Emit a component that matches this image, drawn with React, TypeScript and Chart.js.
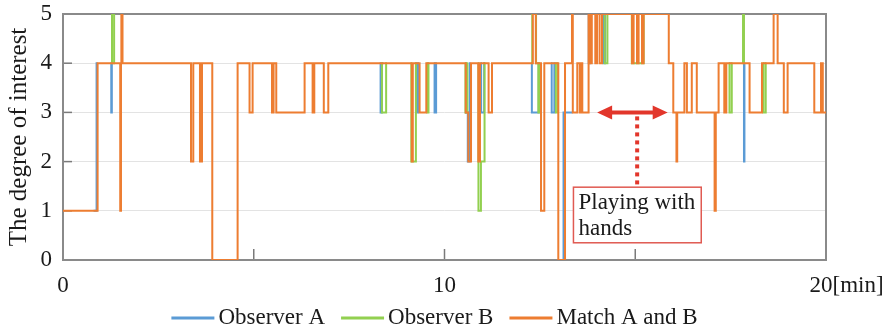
import { useEffect, useRef } from "react";
import { Chart, registerables } from "chart.js";

Chart.register(...registerables);

type Step = [number, number] | null;

// [minute, level]: the level holds from that minute until the next entry
const matchSteps: Step[] = [
  [0, 1], [0.907, 4], [1.5, 1], [1.52, 4], [1.53, 5], [1.56, 4],
  [3.355, 2], [3.415, 4], [3.59, 2], [3.643, 4], [3.913, 0], [4.577, 4],
  [4.89, 3], [4.97, 4], [5.478, 3], [5.52, 4], [5.59, 3], [6.333, 4],
  [6.543, 3], [6.587, 4], [6.836, 3], [6.954, 4],
  [9.143, 2], [9.169, 4], [9.347, 3], [9.523, 4],
  [10.558, 3], [10.624, 2], [10.695, 4], [10.886, 2], [10.93, 4],
  [11.156, 3], [11.245, 4],
  [12.315, 5], [12.393, 4], [12.53, 1], [12.616, 4], [12.983, 0], [13.159, 4],
  [13.342, 5], [13.363, 3], [13.481, 4], [13.547, 3], [13.573, 4], [13.612, 3],
  [13.777, 5], [13.822, 4], [13.861, 5], [13.953, 4], [13.997, 5], [14.065, 4],
  [14.128, 5], [14.915, 4], [14.957, 5], [15.046, 4], [15.088, 5], [15.177, 4],
  [15.219, 5], [15.879, 4], [15.997, 3], [16.08, 2], [16.1, 3], [16.288, 4],
  [16.354, 3], [16.482, 4], [16.613, 3], [17.08, 1], [17.111, 3], [17.185, 4],
  [17.334, 3], [17.387, 4], [17.997, 3], [18.322, 4], [18.627, 5], [18.732, 4],
  [18.894, 3], [18.994, 4], [19.693, 3], [19.869, 4], [19.916, 3], [20, 3],
];

// Only the stretches where Observer A differs from the match (null = gap)
const observerASteps: Step[] = [
  [0.8, 1], [0.88, 4], [0.91, 4], null,
  [1.24, 4], [1.265, 3], [1.28, 4], [1.3, 4], null,
  [8.3, 4], [8.325, 3], [8.36, 4], [8.4, 4], null,
  [9.24, 4], [9.26, 3], [9.305, 4], [9.33, 4], null,
  [9.72, 4], [9.74, 3], [9.78, 4], [9.8, 4], null,
  [10.54, 4], [10.56, 3], [10.61, 2], [10.66, 4], [10.68, 4], null,
  [10.94, 4], [10.96, 3], [11.04, 4], [11.06, 4], null,
  [12.27, 4], [12.29, 3], [12.47, 4], [12.49, 4], null,
  [12.79, 4], [12.81, 3], [12.88, 4], [12.9, 4], null,
  [12.98, 0], [13.12, 3], [13.36, 3], null,
  [13.76, 5], [13.78, 4], [13.82, 5], [13.84, 5], null,
  [14.15, 5], [14.17, 4], [14.21, 5], [14.23, 5], null,
  [17.83, 4], [17.85, 2], [17.862, 4], [17.88, 4], null,
];

// Only the stretches where Observer B differs from the match (null = gap)
const observerBSteps: Step[] = [
  [1.27, 4], [1.285, 5], [1.34, 4], [1.36, 4], null,
  [8.34, 4], [8.36, 3], [8.47, 4], [8.49, 4], null,
  [9.11, 4], [9.13, 2], [9.25, 4], [9.27, 4], null,
  [9.53, 4], [9.55, 3], [9.58, 4], [9.6, 4], null,
  [10.53, 4], [10.55, 3], [10.6, 4], [10.62, 4], null,
  [10.87, 4], [10.89, 1], [10.955, 2], [11.05, 4], [11.07, 4], null,
  [12.28, 4], [12.3, 5], [12.4, 4], [12.46, 3], [12.49, 4], [12.51, 4], null,
  [12.9, 4], [12.92, 3], [12.975, 4], [12.98, 4], null,
  [14.18, 5], [14.2, 4], [14.27, 5], [14.29, 5], null,
  [14.89, 5], [14.91, 4], [15.22, 5], [15.24, 5], null,
  [17.45, 4], [17.47, 3], [17.53, 4], [17.55, 4], null,
  [17.81, 4], [17.825, 5], [17.85, 4], [17.87, 4], null,
  [18.34, 4], [18.36, 3], [18.42, 4], [18.44, 4], null,
];

const seriesNames = ["Observer A", "Observer B", "Match A and B"];
const seriesColors = ["#5b9bd5", "#92d050", "#ed7d31"];
const xLabelValues = [0, 10, 20];
const xMarkValues = [5, 10, 15];
const xUnit = "[min]";
const yTitle = "The degree of interest";
const noteLines = ["Playing with", "hands"];
const arrowSpan = [14.0, 15.85];
const arrowLevel = 3;
const pointerAt = 15.05;
const noteSpanX = [13.38, 16.73];
const noteSpanY = [1.48, 0.35];

const SERIF = "'Liberation Serif', 'Times New Roman', serif";
const TEXT = "#1a1a1a";
const RED = "#e2362b";

function toPoints(steps: Step[]) {
  const out: { x: number; y: number | null }[] = [];
  let lastX = 0;
  for (const s of steps) {
    if (s === null) out.push({ x: lastX, y: null });
    else {
      lastX = s[0];
      out.push({ x: s[0], y: s[1] });
    }
  }
  return out;
}

const decor = {
  id: "decor",
  beforeDatasetsDraw(chart: any) {
    const { ctx, chartArea: a, scales } = chart;
    const x = scales.x, y = scales.y;
    ctx.save();
    ctx.strokeStyle = "#7a7a7a";
    ctx.lineWidth = 1.5;
    for (let v = 1; v < 5; v++) {
      const py = y.getPixelForValue(v);
      ctx.beginPath();
      ctx.moveTo(a.left, py);
      ctx.lineTo(a.left + 9, py);
      ctx.stroke();
    }
    for (const v of xMarkValues) {
      const px = x.getPixelForValue(v);
      ctx.beginPath();
      ctx.moveTo(px, a.bottom);
      ctx.lineTo(px, a.bottom - 11);
      ctx.stroke();
    }
    ctx.strokeStyle = "#8a8a8a";
    ctx.lineWidth = 2;
    ctx.strokeRect(a.left, a.top, a.right - a.left, a.bottom - a.top);
    ctx.restore();
  },
  afterDatasetsDraw(chart: any) {
    const { ctx, chartArea: a, scales, width } = chart;
    const x = scales.x, y = scales.y;
    ctx.save();

    // arrow
    const ay = y.getPixelForValue(arrowLevel);
    const x1 = x.getPixelForValue(arrowSpan[0]);
    const x2 = x.getPixelForValue(arrowSpan[1]);
    const head = 15, half = 7;
    ctx.strokeStyle = RED;
    ctx.fillStyle = RED;
    ctx.lineWidth = 4;
    ctx.beginPath();
    ctx.moveTo(x1 + head - 2, ay);
    ctx.lineTo(x2 - head + 2, ay);
    ctx.stroke();
    ctx.beginPath();
    ctx.moveTo(x1, ay);
    ctx.lineTo(x1 + head, ay - half);
    ctx.lineTo(x1 + head, ay + half);
    ctx.closePath();
    ctx.fill();
    ctx.beginPath();
    ctx.moveTo(x2, ay);
    ctx.lineTo(x2 - head, ay - half);
    ctx.lineTo(x2 - head, ay + half);
    ctx.closePath();
    ctx.fill();

    // note box
    const bx0 = x.getPixelForValue(noteSpanX[0]);
    const bx1 = x.getPixelForValue(noteSpanX[1]);
    const by0 = y.getPixelForValue(noteSpanY[0]);
    const by1 = y.getPixelForValue(noteSpanY[1]);

    // dotted pointer
    const dx = x.getPixelForValue(pointerAt);
    ctx.setLineDash([4, 4]);
    ctx.lineWidth = 4;
    ctx.beginPath();
    ctx.moveTo(dx, ay + 4);
    ctx.lineTo(dx, by0);
    ctx.stroke();
    ctx.setLineDash([]);

    ctx.fillStyle = "#ffffff";
    ctx.fillRect(bx0, by0, bx1 - bx0, by1 - by0);
    ctx.strokeStyle = "#e05a52";
    ctx.lineWidth = 1.5;
    ctx.strokeRect(bx0, by0, bx1 - bx0, by1 - by0);
    ctx.fillStyle = TEXT;
    ctx.font = `23px ${SERIF}`;
    ctx.textAlign = "left";
    ctx.textBaseline = "alphabetic";
    ctx.fillText(noteLines[0], bx0 + 5, by0 + 22);
    ctx.fillText(noteLines[1], bx0 + 5, by0 + 48);

    // x tick labels
    for (const v of xLabelValues) {
      const px = x.getPixelForValue(v);
      const label = String(v);
      const isLast = v === xLabelValues[xLabelValues.length - 1];
      const w = ctx.measureText(label).width;
      ctx.textAlign = "left";
      const start = isLast ? px - w / 2 - 5 : px - w / 2;
      ctx.fillText(label, start, a.bottom + 32);
      if (isLast) ctx.fillText(xUnit, start + w, a.bottom + 32);
    }

    // legend
    const lineLen = 43, gap = 4, spacing = 16;
    ctx.textAlign = "left";
    ctx.textBaseline = "middle";
    const widths = seriesNames.map((n) => ctx.measureText(n).width);
    const total = widths.reduce((s, w) => s + w + lineLen + gap, 0) + spacing * (seriesNames.length - 1);
    let lx = width / 2 - 10 - total / 2;
    const ly = 318;
    seriesNames.forEach((n, i) => {
      ctx.strokeStyle = seriesColors[i];
      ctx.lineWidth = 3;
      ctx.beginPath();
      ctx.moveTo(lx, ly);
      ctx.lineTo(lx + lineLen, ly);
      ctx.stroke();
      ctx.fillStyle = TEXT;
      ctx.fillText(n, lx + lineLen + gap, ly);
      lx += lineLen + gap + widths[i] + spacing;
    });
    ctx.restore();
  },
};

export default function App() {
  const ref = useRef<HTMLCanvasElement>(null);
  useEffect(() => {
    document.body.style.margin = "0";
    const canvas = ref.current;
    if (!canvas) return;
    const common = { stepped: true, pointRadius: 0, borderWidth: 2, spanGaps: false, fill: false };
    const chart = new Chart(canvas, {
      type: "line",
      data: {
        datasets: [
          { ...common, label: seriesNames[2], data: toPoints(matchSteps), borderColor: seriesColors[2], order: 0 },
          { ...common, label: seriesNames[1], data: toPoints(observerBSteps), borderColor: seriesColors[1], order: 1 },
          { ...common, label: seriesNames[0], data: toPoints(observerASteps), borderColor: seriesColors[0], order: 2 },
        ] as any,
      },
      options: {
        animation: false,
        responsive: false,
        devicePixelRatio: 1,
        layout: { padding: { top: 14, right: 63, left: 0, bottom: 0 } },
        plugins: { legend: { display: false }, tooltip: { enabled: false } },
        scales: {
          x: {
            type: "linear",
            min: 0,
            max: 20,
            ticks: { display: false },
            grid: { display: false },
            border: { display: false },
            afterFit: (s: any) => { s.height = 69; },
          },
          y: {
            min: 0,
            max: 5,
            ticks: { stepSize: 1, padding: 11, color: TEXT, font: { family: SERIF, size: 23 } },
            grid: { color: "#e3e3e3", lineWidth: 1, drawTicks: false },
            border: { display: false },
            title: { display: true, text: yTitle, color: TEXT, font: { family: SERIF, size: 25 }, padding: { top: 4, bottom: 0 } },
            afterFit: (s: any) => { s.width = 63; s.paddingTop = 0; s.paddingBottom = 0; },
          },
        },
      } as any,
      plugins: [decor],
    });
    return () => chart.destroy();
  }, []);
  return (
    <div style={{ width: 889, height: 329 }}>
      <canvas ref={ref} width={889} height={329} style={{ display: "block" }} />
    </div>
  );
}
